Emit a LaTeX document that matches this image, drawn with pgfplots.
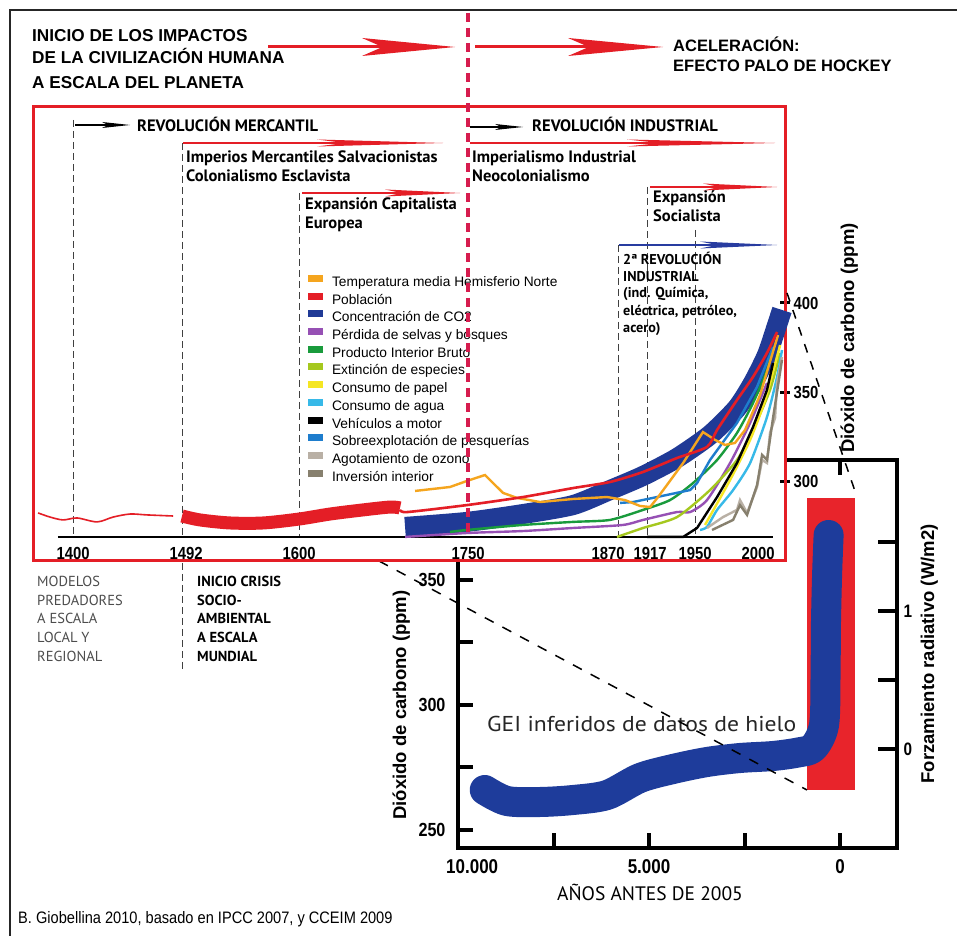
\documentclass[border=0pt]{standalone}
\usepackage{pgfplots}
\pgfplotsset{compat=1.18}
\usepackage{fontspec}
\setmainfont{Liberation Sans}
\newfontfamily\cond{Liberation Sans}[FakeStretch=0.85]
\newfontfamily\pts{PT Sans}
\newfontfamily\ptw{PT Sans}[FakeStretch=1.1]
\newfontfamily\footf{Liberation Sans}[FakeStretch=0.88]
\newcommand\fsz[1]{\fontsize{#1pt}{#1pt}\selectfont}

\definecolor{cRed}{RGB}{228,30,38}
\definecolor{cCrim}{RGB}{214,28,78}
\definecolor{cCO2}{RGB}{32,58,150}
\definecolor{cOra}{RGB}{245,165,30}
\definecolor{cPur}{RGB}{150,80,180}
\definecolor{cGrn}{RGB}{25,155,60}
\definecolor{cYG}{RGB}{165,200,30}
\definecolor{cYel}{RGB}{245,230,35}
\definecolor{cCya}{RGB}{55,185,232}
\definecolor{cMBl}{RGB}{30,125,205}
\definecolor{cGrL}{RGB}{185,176,165}
\definecolor{cGrD}{RGB}{135,128,110}
\definecolor{cIce}{RGB}{30,60,155}
\definecolor{cArB}{RGB}{40,60,160}
\definecolor{cInsR}{RGB}{232,36,43}

% arrow: color, x0, xtip, xhead, y, halfheight, shaft width
\newcommand{\swoosh}[7]{%
  \draw[#1, line width=#7] (#2,#5) -- ({#4+0.22*(#3-#4)},#5);
  \fill[#1] (#4,{#5-#6}) -- (#3,#5) -- (#4,{#5+#6}) -- ({#4+0.22*(#3-#4)},#5) -- cycle;}

\begin{document}
\begin{tikzpicture}
\useasboundingbox (0,0) rectangle (957pt,936pt);

\begin{scope}[x=1pt,y=-1pt,yshift=936pt]
  \draw[line width=2pt, black!85] (957,10) -- (10,10) -- (10,936);
\end{scope}

% ---------------- inset: ice core CO2 ----------------
\begin{axis}[
  at={(458pt,88pt)}, anchor=south west,
  width=439pt, height=388pt, scale only axis,
  x dir=reverse, xmin=-1490, xmax=10000, ymin=242.8, ymax=398,
  scaled x ticks=false, scaled y ticks=false,
  axis line style={line width=4pt},
  tick style={black, line width=4pt}, major tick length=15pt, tick align=inside,
  xtick={0,2500,5000,7500,10000},
  xticklabels={0,,5.000,,\hphantom{000}10.000},
  ytick={250,275,300,325,350}, yticklabels={250,,300,,350}, ytick pos=left,
  xticklabel style={font=\cond\bfseries\fsz{20}, yshift=-8pt},
  yticklabel style={font=\cond\bfseries\fsz{19}, xshift=-9pt},
]
  \addplot[fill=cInsR, draw=none] coordinates {(864,266) (-393,266) (-393,382.8) (864,382.8)} -- cycle;
  \addplot[cIce, line width=30pt, line cap=round, line join=round, smooth, tension=0.5] coordinates {
    (9300,266) (8717,261.6) (7853,261.2) (6990,262) (6099,264) (5236,270.8)
    (4372,274.4) (3482,277.2) (2618,278.8) (1754,279.6) (1100,281) (700,283)
    (420,292) (380,312) (370,332) (340,352) (300,368)};
\end{axis}
\begin{axis}[
  at={(458pt,88pt)}, anchor=south west,
  width=439pt, height=388pt, scale only axis,
  xmin=0, xmax=1, ymin=-0.7174, ymax=2.0942,
  axis x line=none, axis y line*=right,
  y axis line style={line width=4pt},
  tick style={black, line width=4pt}, major tick length=19pt, tick align=inside,
  ytick={0,0.5,1,1.5}, yticklabels={0,,1,},
  yticklabel style={font=\cond\bfseries\fsz{18}, xshift=3pt},
]
  \addplot[draw=none] coordinates {(0.5,0)};
\end{axis}

\begin{scope}[x=1pt,y=-1pt,yshift=936pt]
  \node[anchor=base west, inner sep=0pt, font=\ptw\fsz{21.5}, text=black!85] at (487,732) {GEI inferidos de datos de hielo};
  \draw[black, line width=1.5pt, dash pattern=on 10pt off 10pt] (379,561) -- (807,790);
  \node[rotate=90, anchor=base, inner sep=0pt, font=\bfseries\fsz{18.5}] at (406,705) {Dióxido de carbono (ppm)};
  \node[rotate=90, anchor=base, inner sep=0pt, font=\bfseries\fsz{18.5}] at (934,654) {Forzamiento radiativo (W/m2)};
  \node[anchor=base, inner sep=0pt, font=\pts\fsz{19.5}] at (650,900) {AÑOS ANTES DE 2005};
  \node[anchor=base west, inner sep=0pt, font=\footf\fsz{16.6}] at (18,923) {B. Giobellina 2010, basado en IPCC 2007, y CCEIM 2009};
  % white main box + period lines
  \fill[white] (33,107) rectangle (785,561);
  \begin{scope}[black!75, line width=0.9pt, dash pattern=on 7pt off 4pt]
    \draw (73,120) -- (73,537);
    \draw (182,143) -- (182,537);
    \draw (182,563) -- (182,670);
    \draw (299,193) -- (299,537);
    \draw (618,245) -- (618,537);
    \draw (647,187) -- (647,537);
    \draw (695,230) -- (695,537);
  \end{scope}
\end{scope}

% ---------------- main axis ----------------
\begin{axis}[
  at={(33pt,375pt)}, anchor=south west,
  width=752pt, height=454pt, scale only axis,
  x coord trafo/.code={\pgfmathparse{ifthenelse(#1<1492,73+(#1-1400)*1.18478,ifthenelse(#1<1600,182+(#1-1492)*1.08333,ifthenelse(#1<1750,299+(#1-1600)*1.12667,ifthenelse(#1<1870,468+(#1-1750)*1.25,ifthenelse(#1<1917,618+(#1-1870)*0.61702,ifthenelse(#1<1950,647+(#1-1917)*1.45455,695+(#1-1950)*1.26))))))}},
  xmin=1366.2, xmax=2021.4, ymin=255.86, ymax=509.5,
  clip=false,
  axis line style={draw=cRed, line width=3pt},
  xtick={1400,1492,1600,1750,1870,1917,1950,2000},
  xticklabels={1400,\hspace*{8pt}1492,1600,1750,\hspace*{-20pt}1870,\hspace*{6pt}1917,1950,2000},
  xtick style={draw=none}, xtick pos=bottom,
  xticklabel style={anchor=center, yshift=12.5pt, font=\cond\bfseries\fsz{17.5}},
  ytick={300,350,400}, yticklabels={300,350,400}, ytick pos=right, yticklabel pos=right,
  ytick style={black, line width=3pt}, tick align=center, major tick length=10pt,
  yticklabel style={anchor=west, font=\cond\bfseries\fsz{17.5}},
  legend image code/.code={\fill (0pt,1pt) rectangle (15pt,8pt);},
  legend style={at={(0.3657,0.63)}, anchor=north west, draw=none, fill=none,
    inner sep=0pt, outer sep=0pt, font=\fsz{13.75}, row sep=3.2pt, column sep=9pt,
    nodes={inner sep=0pt, text height=10pt, text depth=3pt}},
  legend cell align=left,
]
  \addlegendimage{fill=cOra, draw=none}\addlegendentry{Temperatura media Hemisferio Norte}
  \addlegendimage{fill=cRed, draw=none}\addlegendentry{Población}
  \addlegendimage{fill=cCO2, draw=none}\addlegendentry{Concentración de CO2}
  \addlegendimage{fill=cPur, draw=none}\addlegendentry{Pérdida de selvas y bosques}
  \addlegendimage{fill=cGrn, draw=none}\addlegendentry{Producto Interior Bruto}
  \addlegendimage{fill=cYG, draw=none}\addlegendentry{Extinción de especies}
  \addlegendimage{fill=cYel, draw=none}\addlegendentry{Consumo de papel}
  \addlegendimage{fill=cCya, draw=none}\addlegendentry{Consumo de agua}
  \addlegendimage{fill=black, draw=none}\addlegendentry{Vehículos a motor}
  \addlegendimage{fill=cMBl, draw=none}\addlegendentry{Sobreexplotación de pesquerías}
  \addlegendimage{fill=cGrL, draw=none}\addlegendentry{Agotamiento de ozono}
  \addlegendimage{fill=cGrD, draw=none}\addlegendentry{Inversión interior}

  % x axis baseline
  \addplot[forget plot, black, line width=2pt] coordinates {(1387.3,269.3) (2011.9,269.3)};
  % CO2 concentration band
  \addplot[forget plot, cCO2, line width=20pt, smooth, tension=0.4] coordinates {
    (1694.1,274.9) (1749.1,277.7) (1794,282.1) (1834,287.1) (1863.6,295.5) (1910.5,303.4)
    (1937.6,313.4) (1961.9,326.3) (1983.3,341.3) (1996,355.3) (2007.1,371) (2015.1,387.7) (2019,396.1)};
  % population
  \addplot[forget plot, cRed, line width=1.6pt, smooth] coordinates {
    (1370.5,282.7) (1380.6,280.4) (1391.6,278.8) (1403.4,279.9) (1420.3,277.7)
    (1433.8,280.4) (1448.1,282.1) (1462.5,281.6) (1484.4,281.0)};
  \addplot[forget plot, cRed, line width=13pt, smooth] coordinates {
    (1492,281.0) (1508.6,278.8) (1536.3,277.1) (1566.8,277.1) (1600,279.3)
    (1627.5,282.1) (1656.8,284.4) (1680.8,286.0) (1689.6,285.5)};
  % deforestation
  \addplot[forget plot, cPur, line width=2.4pt, smooth, tension=0.4] coordinates {
    (1694.1,269.3) (1749.1,271.5) (1794,272.6) (1834,274.3) (1878.1,276) (1910.5,278.8)
    (1937.6,283.2) (1946.6,283.2) (1959.5,289.9) (1977.8,310.6) (1993.7,333) (2007.1,355.3)};
  % GDP
  \addplot[forget plot, cGrn, line width=2.4pt, smooth, tension=0.4] coordinates {
    (1734,272.1) (1749.1,273.2) (1794,276) (1834,277.7) (1863.6,278.8) (1910.5,284.4)
    (1932.8,289.9) (1948.6,299.4) (1967.5,312.3) (1983.3,327.4) (1996,344.1) (2007.1,362.6) (2011.9,374.9)};
  % species extinction
  \addplot[forget plot, cYG, line width=2.4pt, smooth, tension=0.4] coordinates {
    (1869.2,269.3) (1910.5,274.3) (1937.6,280.4) (1961.9,295.5) (1983.3,312.3)
    (1996,329.1) (2009.5,351.4) (2017.5,372.1)};
  % paper
  \addplot[forget plot, cYel, line width=2.4pt, smooth, tension=0.4] coordinates {
    (1957.9,276) (1977.8,301.1) (1993.7,323.5) (2005.6,345.8) (2017.5,376.5)};
  % water
  \addplot[forget plot, cCya, line width=2.4pt, smooth, tension=0.4] coordinates {
    (1954,273.2) (1959.5,274.9) (1967.5,284.4) (1980.2,295.5) (1993.7,310.6)
    (2007.1,336.3) (2015.1,358.7) (2019,373.7)};
  % fisheries
  \addplot[forget plot, cMBl, line width=2.4pt] coordinates {
    (1873.2,288.3) (1894.3,288.8) (1923.9,291.6) (1946.6,295.5) (1951.6,299.4)
    (1961.9,312.3) (1983.3,333) (1999.2,353.1) (2011.9,375.4)};
  % ozone
  \addplot[forget plot, cGrL, line width=2.4pt] coordinates {
    (1959.5,274.3) (1972.2,280.4) (1983.3,284.4) (1985.7,289.9) (1991.3,282.7)
    (1999.2,297.2) (2003.2,312.3) (2007.1,310.6) (2009.5,327.4) (2013.5,335.8)
    (2015.1,355.3) (2019,369.8)};
  % domestic investment
  \addplot[forget plot, cGrD, line width=2.4pt] coordinates {
    (1963.5,273.2) (1980.2,278.8) (1985.7,287.1) (1991.3,281.6) (1999.2,298.3)
    (2003.2,315.1) (2007.1,312.3) (2011.9,335.8) (2015.1,350.3) (2019,368.2)};
  % motor vehicles
  \addplot[forget plot, black, line width=2.4pt] coordinates {
    (1917,269.3) (1941.8,269.3) (1951.6,274.3) (1967.5,291.6) (1983.3,310.6)
    (1996,330.7) (2007.1,351.4) (2011.9,366.5)};
  % NH temperature
  \addplot[forget plot, cOra, line width=2.4pt] coordinates {
    (1703,295) (1734,297.2) (1749.1,300.6) (1763.6,303.9) (1770,299.4) (1778,293.9)
    (1789.2,291.1) (1807.6,288.8) (1834,290.5) (1861.2,291.6) (1881.3,289.9)
    (1905.7,286.6) (1919.1,286) (1924.6,291.6) (1941.8,310.6) (1956.3,327.9)
    (1965.9,323.5) (1973.8,320.7) (1981.7,321.8) (1989.7,329.1) (2001.6,348.6)
    (2011.1,371) (2015.9,382.1)};
  % population (modern)
  \addplot[forget plot, cRed, line width=2.6pt, smooth, tension=0.4] coordinates {
    (1689.6,284.5) (1695.9,283.2) (1749.1,287.1) (1794,291.6) (1834,296.6) (1863.6,300)
    (1910.5,305.6) (1937.6,313.4) (1959.5,319.6) (1967.5,329.1) (1983.3,345.8)
    (1996,358.7) (2007.1,372.1) (2015.1,383.8)};
\end{axis}

% ---------------- annotations ----------------
\begin{scope}[x=1pt,y=-1pt,yshift=936pt]
  \draw[cCrim, line width=3.2pt, dash pattern=on 9pt off 6pt] (468,13) -- (468,537);
  % title
  \node[anchor=base west, inner sep=0pt, font=\bfseries\fsz{17.2}] at (32,42) {INICIO DE LOS IMPACTOS};
  \node[anchor=base west, inner sep=0pt, font=\bfseries\fsz{17.2}] at (32,64) {DE LA CIVILIZACIÓN HUMANA};
  \node[anchor=base west, inner sep=0pt, font=\bfseries\fsz{17.2}] at (32,89) {A ESCALA DEL PLANETA};
  \node[anchor=base west, inner sep=0pt, font=\bfseries\fsz{16.5}] at (673,52) {ACELERACIÓN:};
  \node[anchor=base west, inner sep=0pt, font=\bfseries\fsz{16.5}] at (673,72) {EFECTO PALO DE HOCKEY};
  \swoosh{cRed}{268}{455}{362}{47}{9}{3pt}
  \swoosh{cRed}{475}{663}{568}{47}{9}{3pt}
  % period arrows
  \swoosh{black}{75}{130}{102}{125}{3}{1.2pt}
  \swoosh{cRed}{183}{443}{317}{143}{3.5}{1.5pt}
  \swoosh{cRed}{302}{460}{385}{193}{3.5}{1.5pt}
  \swoosh{black}{470}{523}{495}{127}{3}{1.2pt}
  \swoosh{cRed}{470}{775}{627}{143}{3.5}{1.5pt}
  \swoosh{cRed}{650}{777}{703}{187}{3.5}{1.5pt}
  \swoosh{cArB}{619}{777}{700}{245}{3.5}{1.5pt}
  % period texts
  \begin{scope}[every node/.style={anchor=base west, inner sep=0pt, font=\pts\bfseries\fsz{16.5}}]
    \node at (137,132) {REVOLUCIÓN MERCANTIL};
    \node at (186,163) {Imperios Mercantiles Salvacionistas};
    \node at (186,182) {Colonialismo Esclavista};
    \node at (305,210) {Expansión Capitalista};
    \node at (305,229) {Europea};
    \node at (532,132) {REVOLUCIÓN INDUSTRIAL};
    \node at (472,163) {Imperialismo Industrial};
    \node at (472,182) {Neocolonialismo};
    \node at (653,203) {Expansión};
    \node at (653,222) {Socialista};
  \end{scope}
  \begin{scope}[every node/.style={anchor=base west, inner sep=0pt, font=\pts\bfseries\fsz{14.2}}]
    \node at (623,265) {2ª REVOLUCIÓN};
    \node at (623,282) {INDUSTRIAL};
    \node at (623,298) {(ind. Química,};
    \node at (623,316) {eléctrica, petróleo,};
    \node at (623,333) {acero)};
  \end{scope}
  \begin{scope}[every node/.style={anchor=base west, inner sep=0pt, font=\pts\fsz{14.5}, text=black!70}]
    \node at (37,587) {MODELOS};
    \node at (37,606) {PREDADORES};
    \node at (37,624) {A ESCALA};
    \node at (37,643) {LOCAL Y};
    \node at (37,662) {REGIONAL};
  \end{scope}
  \begin{scope}[every node/.style={anchor=base west, inner sep=0pt, font=\pts\bfseries\fsz{14.5}}]
    \node at (197,587) {INICIO CRISIS};
    \node at (197,606) {SOCIO-};
    \node at (197,624) {AMBIENTAL};
    \node at (197,643) {A ESCALA};
    \node at (197,662) {MUNDIAL};
  \end{scope}
  \node[rotate=90, anchor=base, inner sep=0pt, font=\bfseries\fsz{18.5}] at (854,338) {Dióxido de carbono (ppm)};
  \draw[black, line width=1.5pt, dash pattern=on 9pt off 9pt] (787,293) -- (857,497);
\end{scope}
\end{tikzpicture}
\end{document}
